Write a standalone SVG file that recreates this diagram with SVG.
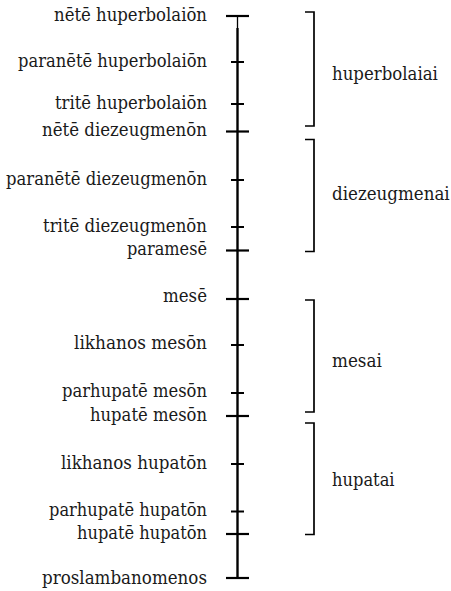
<svg xmlns="http://www.w3.org/2000/svg" width="451" height="591" viewBox="0 0 451 591">
<style>
text{font-family:'DejaVu Serif',serif;font-size:19px;fill:#1a1a1a}
.lbl{text-anchor:end}
.long{stroke:#000;stroke-width:2.2}
.short{stroke:#000;stroke-width:2}
.br{fill:none;stroke:#000;stroke-width:1.7}
.axis{stroke:#000;stroke-width:2.4}
</style>
<rect width="451" height="591" fill="#fff"/>
<g id="connectors">
<line x1="237.5" y1="16" x2="237.5" y2="28" stroke="#000" stroke-width="1.3"/>
<line class="axis" x1="237.5" y1="28" x2="237.5" y2="579"/>
</g>
<g id="nete-huperbolaion"><line class="long" x1="226" y1="16" x2="249" y2="16"/><text class="lbl" x="207" y="21" textLength="153" lengthAdjust="spacingAndGlyphs">nētē huperbolaiōn</text></g>
<g id="paranete-huperbolaion"><line class="short" x1="231" y1="62" x2="244" y2="62"/><text class="lbl" x="207" y="67" textLength="189" lengthAdjust="spacingAndGlyphs">paranētē huperbolaiōn</text></g>
<g id="trite-huperbolaion"><line class="short" x1="231" y1="104" x2="244" y2="104"/><text class="lbl" x="207" y="109" textLength="152" lengthAdjust="spacingAndGlyphs">tritē huperbolaiōn</text></g>
<g id="nete-diezeugmenon"><line class="long" x1="226" y1="131.5" x2="249" y2="131.5"/><text class="lbl" x="207" y="136" textLength="165" lengthAdjust="spacingAndGlyphs">nētē diezeugmenōn</text></g>
<g id="paranete-diezeugmenon"><line class="short" x1="231" y1="180" x2="244" y2="180"/><text class="lbl" x="207" y="185" textLength="201" lengthAdjust="spacingAndGlyphs">paranētē diezeugmenōn</text></g>
<g id="trite-diezeugmenon"><line class="short" x1="231" y1="227" x2="244" y2="227"/><text class="lbl" x="207" y="232" textLength="164" lengthAdjust="spacingAndGlyphs">tritē diezeugmenōn</text></g>
<g id="paramese"><line class="long" x1="226" y1="250.5" x2="249" y2="250.5"/><text class="lbl" x="207" y="255" textLength="80" lengthAdjust="spacingAndGlyphs">paramesē</text></g>
<g id="mese"><line class="long" x1="226" y1="299" x2="249" y2="299"/><text class="lbl" x="207" y="302" textLength="44" lengthAdjust="spacingAndGlyphs">mesē</text></g>
<g id="likhanos-meson"><line class="short" x1="231" y1="345" x2="244" y2="345"/><text class="lbl" x="207" y="349" textLength="133" lengthAdjust="spacingAndGlyphs">likhanos mesōn</text></g>
<g id="parhupate-meson"><line class="short" x1="231" y1="393" x2="244" y2="393"/><text class="lbl" x="207" y="397" textLength="145" lengthAdjust="spacingAndGlyphs">parhupatē mesōn</text></g>
<g id="hupate-meson"><line class="long" x1="226" y1="416" x2="249" y2="416"/><text class="lbl" x="207" y="421" textLength="117" lengthAdjust="spacingAndGlyphs">hupatē mesōn</text></g>
<g id="likhanos-hupaton"><line class="short" x1="231" y1="464" x2="244" y2="464"/><text class="lbl" x="207" y="469" textLength="146" lengthAdjust="spacingAndGlyphs">likhanos hupatōn</text></g>
<g id="parhupate-hupaton"><line class="short" x1="231" y1="511.5" x2="244" y2="511.5"/><text class="lbl" x="207" y="516" textLength="158" lengthAdjust="spacingAndGlyphs">parhupatē hupatōn</text></g>
<g id="hupate-hupaton"><line class="long" x1="226" y1="534" x2="249" y2="534"/><text class="lbl" x="207" y="539" textLength="130" lengthAdjust="spacingAndGlyphs">hupatē hupatōn</text></g>
<g id="proslambanomenos"><line class="long" x1="226" y1="578" x2="249" y2="578"/><text class="lbl" x="207" y="584" textLength="165" lengthAdjust="spacingAndGlyphs">proslambanomenos</text></g>
<g id="huperbolaiai"><path class="br" d="M305,12 H314 V126 H305"/><text transform="translate(332,80) scale(0.875,1)" textLength="121" lengthAdjust="spacingAndGlyphs">huperbolaiai</text></g>
<g id="diezeugmenai"><path class="br" d="M305,139.5 H314 V251.5 H305"/><text transform="translate(332,200) scale(0.875,1)" textLength="134.5" lengthAdjust="spacingAndGlyphs">diezeugmenai</text></g>
<g id="mesai"><path class="br" d="M305,300 H314 V412 H305"/><text transform="translate(332,367) scale(0.875,1)" textLength="57" lengthAdjust="spacingAndGlyphs">mesai</text></g>
<g id="hupatai"><path class="br" d="M305,423 H314 V534.5 H305"/><text transform="translate(332,486) scale(0.875,1)" textLength="71.5" lengthAdjust="spacingAndGlyphs">hupatai</text></g>
</svg>
